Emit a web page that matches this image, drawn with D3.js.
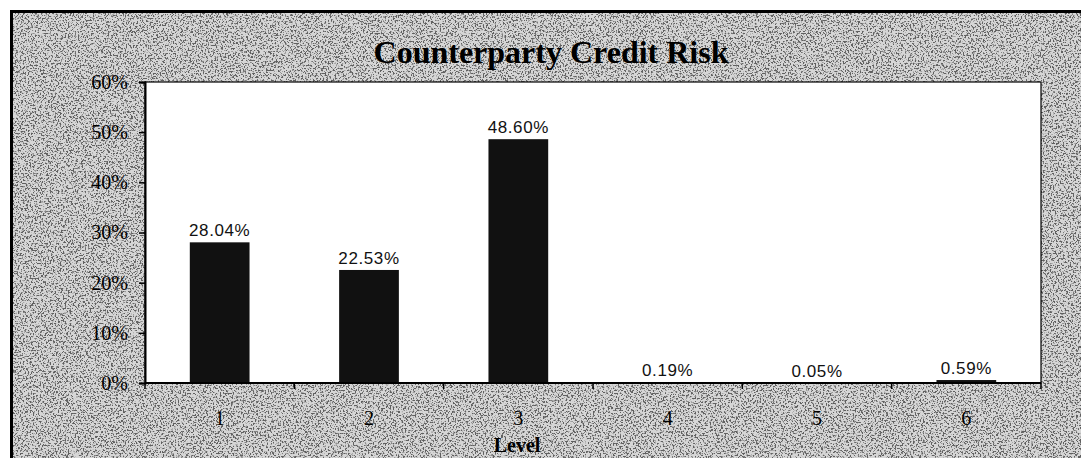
<!DOCTYPE html>
<html>
<head>
<meta charset="utf-8">
<script src="https://cdn.jsdelivr.net/npm/d3@7"></script>
<style>
  html, body { margin: 0; padding: 0; background: #ffffff; }
  svg { display: block; }
</style>
</head>
<body>
<svg id="chart" width="1081" height="458"></svg>
<script>
// Counterparty credit risk: share of exposure by level
const levels = ["1", "2", "3", "4", "5", "6"];
const shares = [28.04, 22.53, 48.60, 0.19, 0.05, 0.59];
const yTickValues = [0, 10, 20, 30, 40, 50, 60];
const chartTitle = "Counterparty Credit Risk";
const xTitle = "Level";

const W = 1081, H = 458;
const plot = { left: 145, right: 1041, top: 82, bottom: 383 };

const svg = d3.select("#chart");
const defs = svg.append("defs");

// speckled halftone texture for the gray chart area
const grain = defs.append("filter").attr("id", "grain")
  .attr("x", 0).attr("y", 0).attr("width", "100%").attr("height", "100%");
grain.append("feTurbulence")
  .attr("type", "fractalNoise").attr("baseFrequency", 0.6)
  .attr("numOctaves", 2).attr("seed", 7).attr("result", "noise");
grain.append("feColorMatrix").attr("in", "noise").attr("type", "matrix")
  .attr("values", "0 0 0 0 0  0 0 0 0 0  0 0 0 0 0  8 0 0 0 -4.1");

// chart area
svg.append("rect")
  .attr("x", 11.5).attr("y", 11.5)
  .attr("width", W + 20).attr("height", H + 20)
  .attr("fill", "#d6d6d6");
svg.append("rect")
  .attr("x", 13).attr("y", 13)
  .attr("width", W).attr("height", H)
  .attr("fill", "#000").attr("filter", "url(#grain)").attr("opacity", 0.55);
svg.append("rect")
  .attr("x", 11.5).attr("y", 11.5)
  .attr("width", W + 20).attr("height", H + 20)
  .attr("fill", "none").attr("stroke", "#000").attr("stroke-width", 3);

// plot area
svg.append("rect")
  .attr("x", plot.left).attr("y", plot.top)
  .attr("width", plot.right - plot.left).attr("height", plot.bottom - plot.top)
  .attr("fill", "#ffffff").attr("stroke", "#000").attr("stroke-width", 1.2);

const x = d3.scaleBand().domain(levels)
  .range([plot.left, plot.right]).paddingInner(0.6).paddingOuter(0.3);
const y = d3.scaleLinear().domain([0, 60]).range([plot.bottom, plot.top]);

// bars
svg.append("g").selectAll("rect")
  .data(levels.map((l, i) => ({ level: l, value: shares[i] })))
  .join("rect")
  .attr("x", d => x(d.level))
  .attr("y", d => y(d.value))
  .attr("width", x.bandwidth())
  .attr("height", d => y(0) - y(d.value))
  .attr("fill", "#111111");

// value labels
const fmt = d3.format(".2f");
svg.append("g").selectAll("text")
  .data(levels.map((l, i) => ({ level: l, value: shares[i] })))
  .join("text")
  .attr("x", d => x(d.level) + x.bandwidth() / 2)
  .attr("y", d => y(d.value) - 6)
  .attr("text-anchor", "middle")
  .attr("font-family", "'Liberation Sans', Arial, sans-serif")
  .attr("font-size", 17)
  .attr("letter-spacing", 0.6)
  .attr("fill", "#111")
  .text(d => fmt(d.value) + "%");

// y axis
const yAxis = svg.append("g")
  .attr("transform", `translate(${plot.left},0)`)
  .call(d3.axisLeft(y).tickValues(yTickValues).tickFormat(d => d + "%")
    .tickSize(6).tickPadding(11));
yAxis.select(".domain").attr("stroke", "#000").attr("stroke-width", 2);
yAxis.selectAll(".tick line").attr("stroke", "#000").attr("stroke-width", 1.5);
yAxis.selectAll("text")
  .attr("font-family", "'Liberation Serif', 'Times New Roman', serif")
  .attr("font-size", 20).attr("fill", "#000");

// x axis: category labels, with tick marks between categories
const xAxis = svg.append("g")
  .attr("transform", `translate(0,${plot.bottom})`)
  .call(d3.axisBottom(x).tickSize(0).tickPadding(28));
xAxis.select(".domain").remove();
xAxis.selectAll("text")
  .attr("font-family", "'Liberation Serif', 'Times New Roman', serif")
  .attr("font-size", 20).attr("fill", "#000");

const gap = x.step() * x.paddingInner() / 2;
const boundaries = levels.map(l => x(l) - gap).concat([x(levels[levels.length - 1]) + x.bandwidth() + gap]);
svg.append("g").selectAll("line")
  .data(boundaries)
  .join("line")
  .attr("x1", d => d).attr("x2", d => d)
  .attr("y1", plot.bottom).attr("y2", plot.bottom + 6)
  .attr("stroke", "#000").attr("stroke-width", 1.5);
svg.append("line")
  .attr("x1", plot.left).attr("x2", plot.right)
  .attr("y1", plot.bottom).attr("y2", plot.bottom)
  .attr("stroke", "#000").attr("stroke-width", 2);

// titles
svg.append("text")
  .attr("x", 551).attr("y", 63)
  .attr("text-anchor", "middle")
  .attr("font-family", "'Liberation Serif', 'Times New Roman', serif")
  .attr("font-weight", "bold").attr("font-size", 32)
  .attr("fill", "#000")
  .text(chartTitle);

svg.append("text")
  .attr("x", 517).attr("y", 452)
  .attr("text-anchor", "middle")
  .attr("font-family", "'Liberation Serif', 'Times New Roman', serif")
  .attr("font-weight", "bold").attr("font-size", 20)
  .attr("fill", "#000")
  .text(xTitle);
</script>
</body>
</html>
